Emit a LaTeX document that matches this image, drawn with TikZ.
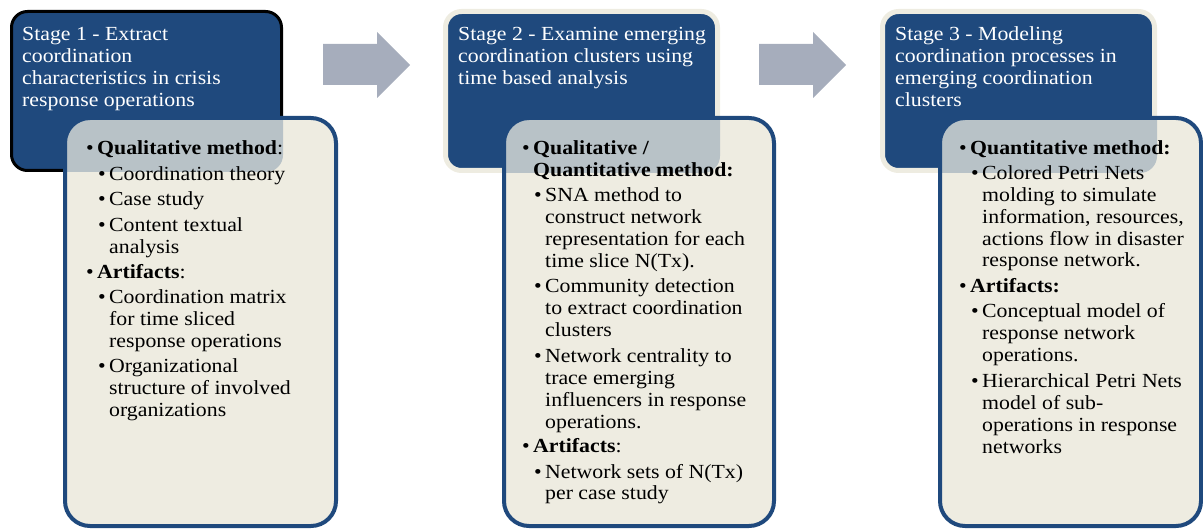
\documentclass[tikz,border=0pt]{standalone}
\usepackage{fontspec}
\setmainfont{Liberation Serif}[FakeStretch=1.09]
\definecolor{stageblue}{HTML}{1F497D}
\definecolor{paper}{HTML}{EEECE1}
\definecolor{flowgray}{HTML}{A6ADBC}
\newcommand\bodysize{\fontsize{20}{21.7}\selectfont}
\newcommand\stack[1]{\begin{tabular}[t]{@{}l@{}}#1\end{tabular}}
\newcommand\bul{\llap{\textbullet\hspace{3.5pt}}}
\tikzset{
  headbox/.style={fill=stageblue, rounded corners=16pt},
  bodybox/.style={fill=paper, rounded corners=25pt},
  bodyrim/.style={draw=stageblue, line width=4pt, rounded corners=25pt},
  overlap/.style={fill=paper!74!stageblue, rounded corners=25pt},
  titletext/.style={anchor=base west, inner sep=0pt, text=white, font=\bodysize},
  itemtext/.style={anchor=base west, inner sep=0pt, font=\bodysize},
  flow/.style={fill=flowgray}
}
\begin{document}
\begin{tikzpicture}[x=1pt, y=-1pt]
\useasboundingbox (0,0) rectangle (1203,529);

% stage header panels
\fill[headbox] (11.5,11.5) rectangle (281.5,170.5);
\draw[black, line width=3pt, rounded corners=16pt] (11.5,11.5) rectangle (281.5,170.5);
\filldraw[headbox, draw=paper, line width=5pt] (445.5,11.5) rectangle (717.5,170.5);
\filldraw[headbox, draw=paper, line width=5pt] (882.5,11.5) rectangle (1154.5,170.5);

% flow arrows between stages
\fill[flow] (323,44) -- (377,44) -- (377,32) -- (410,65) -- (377,98) -- (377,85) -- (323,85) -- cycle;
\fill[flow] (759,44) -- (813,44) -- (813,32) -- (846,65) -- (813,98) -- (813,85) -- (759,85) -- cycle;

% detail panels
\fill[bodybox] (65,118) rectangle (336,526);
\fill[bodybox] (504,118) rectangle (774,526);
\fill[bodybox] (940,118) rectangle (1201,526);

% translucent part where a detail panel lies over its header
\begin{scope}
  \clip[rounded corners=17pt] (10,10) rectangle (283,172);
  \fill[overlap] (65,118) rectangle (336,526);
\end{scope}
\begin{scope}
  \clip[rounded corners=17pt] (443,9) rectangle (720,173);
  \fill[overlap] (504,118) rectangle (774,526);
\end{scope}
\begin{scope}
  \clip[rounded corners=17pt] (880,9) rectangle (1157,173);
  \fill[overlap] (940,118) rectangle (1201,526);
\end{scope}

\draw[bodyrim] (65,118) rectangle (336,526);
\draw[bodyrim] (504,118) rectangle (774,526);
\draw[bodyrim] (940,118) rectangle (1201,526);

% headers
\node[titletext] (t1) at (22,41) {\stack{Stage 1 - Extract\\coordination\\characteristics in crisis\\response operations}};
\node[titletext] (t2) at (458,41) {\stack{Stage 2 - Examine emerging\\coordination clusters using\\time based analysis}};
\node[titletext] (t3) at (895,41) {\stack{Stage 3 - Modeling\\coordination processes in\\emerging coordination\\clusters}};

% stage 1 items
\node[itemtext] (s1m) at (97,155) {\bul\textbf{Qualitative method}:};
\node[itemtext] (s1m1) at (109,181) {\bul Coordination theory};
\node[itemtext] (s1m2) at (109,206) {\bul Case study};
\node[itemtext] (s1m3) at (109,232) {\bul\stack{Content textual\\analysis}};
\node[itemtext] (s1a) at (97,279) {\bul\textbf{Artifacts}:};
\node[itemtext] (s1a1) at (109,304) {\bul\stack{Coordination matrix\\for time sliced\\response operations}};
\node[itemtext] (s1a2) at (109,373) {\bul\stack{Organizational\\structure of involved\\organizations}};

% stage 2 items
\node[itemtext] (s2m) at (533,155) {\bul\stack{\textbf{Qualitative /}\\\textbf{Quantitative method:}}};
\node[itemtext] (s2m1) at (545,202) {\bul\stack{SNA method to\\construct network\\representation for each\\time slice N(Tx).}};
\node[itemtext] (s2m2) at (545,293) {\bul\stack{Community detection\\to extract coordination\\clusters}};
\node[itemtext] (s2m3) at (545,363) {\bul\stack{Network centrality to\\trace emerging\\influencers in response\\operations.}};
\node[itemtext] (s2a) at (533,453) {\bul\textbf{Artifacts}:};
\node[itemtext] (s2a1) at (545,478) {\bul\stack{Network sets of N(Tx)\\per case study}};

% stage 3 items
\node[itemtext] (s3m) at (970,155) {\bul\textbf{Quantitative method:}};
\node[itemtext] (s3m1) at (982,180) {\bul\stack{Colored Petri Nets\\molding to simulate\\information, resources,\\actions flow in disaster\\response network.}};
\node[itemtext] (s3a) at (970,293) {\bul\textbf{Artifacts:}};
\node[itemtext] (s3a1) at (982,318) {\bul\stack{Conceptual model of\\response network\\operations.}};
\node[itemtext] (s3a2) at (982,388) {\bul\stack{Hierarchical Petri Nets\\model of sub-\\operations in response\\networks}};
\end{tikzpicture}
\end{document}
